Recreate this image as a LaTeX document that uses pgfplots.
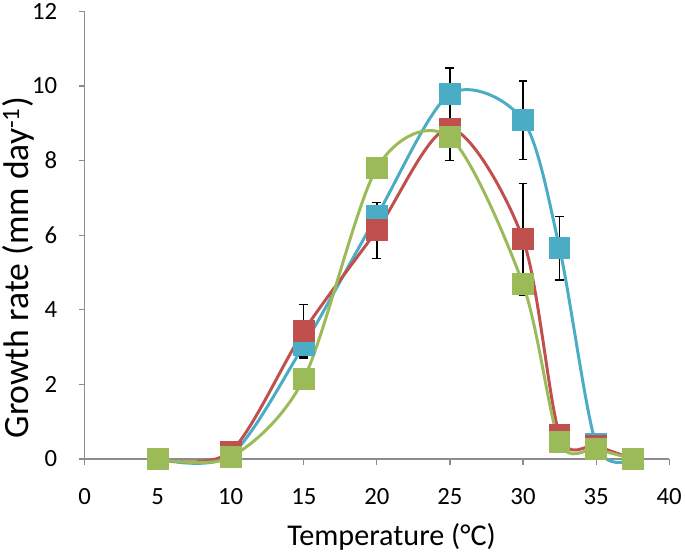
\documentclass[border=0pt]{standalone}
\usepackage{fontspec}
\setmainfont{Carlito}
\usepackage{pgfplots}
\pgfplotsset{compat=1.18}
\definecolor{cblue}{HTML}{4BACC6}
\definecolor{cred}{HTML}{C0504D}
\definecolor{cgreen}{HTML}{9BBB59}
\definecolor{axgray}{HTML}{8C8C8C}
\begin{document}
\begin{tikzpicture}[x=1bp,y=1bp]
\begin{axis}[
  scale only axis,
  width=589bp, height=451bp,
  xmin=0, xmax=40, ymin=0, ymax=12,
  xtick={0,5,...,40}, ytick={0,2,...,12},
  axis x line=bottom, axis y line=left,
  axis line style={-, axgray, line width=1.2bp},
  tick style={axgray, line width=1.2bp},
  tick align=outside,
  major tick length=6bp,
  clip=false,
  tick label style={font=\fontsize{25}{28}\selectfont},
  xticklabel style={yshift=-20bp},
  yticklabel style={xshift=-18bp},
  /pgf/number format/assume math mode=true,
  xlabel={Temperature (°C)},
  ylabel={Growth rate (mm day\textsuperscript{-1})},
  xlabel style={font=\fontsize{30.5}{34}\selectfont, at={(axis description cs:0.343,-0.193)}, anchor=base west, inner sep=2bp},
  ylabel style={font=\fontsize{36}{40}\selectfont, at={(axis description cs:-0.145,0.427)}, anchor=north, inner sep=2bp},
  error bars/error bar style={black, line width=1.3bp},
  error bars/error mark options={black, rotate=90, mark size=4.5bp, line width=1.3bp},
]
\addplot[cblue, line width=3bp, smooth, tension=0.5, mark=square*, mark size=9.5bp,
  mark options={solid, fill=cblue, draw=cblue},
  error bars/.cd, y dir=both, y explicit]
  table[x=x, y=y, y error=e] {
x y e
5 0 0
10 0.1 0
15 3.05 0.3
20 6.52 0.35
25 9.78 0.7
30 9.08 1.05
32.5 5.65 0.85
35 0.4 0
37.5 0 0
};
\addplot[cred, line width=3bp, smooth, tension=0.5, mark=square*, mark size=9.5bp,
  mark options={solid, fill=cred, draw=cred},
  error bars/.cd, y dir=both, y explicit]
  table[x=x, y=y, y error=e] {
x y e
5 0 0
10 0.2 0
15 3.43 0.72
20 6.13 0.75
25 8.86 0.85
30 5.89 1.5
32.5 0.65 0.2
35 0.35 0
37.5 0 0
};
\addplot[cgreen, line width=3bp, smooth, tension=0.5, mark=square*, mark size=9.5bp,
  mark options={solid, fill=cgreen, draw=cgreen}]
  table[x=x, y=y] {
x y
5 0 
10 0.05
15 2.15
20 7.8
25 8.62
30 4.68
32.5 0.45
35 0.26
37.5 0
};
\end{axis}
\end{tikzpicture}
\end{document}
